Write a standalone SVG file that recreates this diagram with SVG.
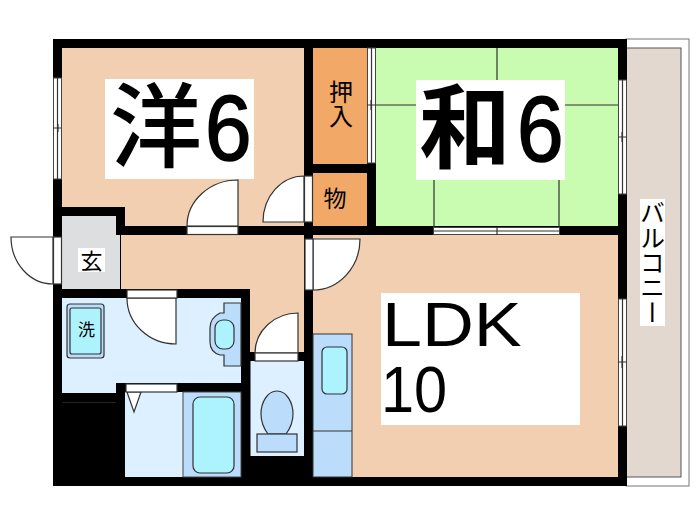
<svg xmlns="http://www.w3.org/2000/svg" width="700" height="525" viewBox="0 0 700 525">
<style>
.o{stroke:#333;stroke-width:1.2}
.w{fill:#fff;stroke:#444;stroke-width:1}
.d{fill:#fff;stroke:#333;stroke-width:1.2}
.t{font-family:"Noto Sans CJK JP","Liberation Sans",sans-serif;fill:#000}
.l{font-family:"Liberation Sans",Arial,sans-serif;fill:#000}
.h{stroke:#000;stroke-width:1.6}
.ln{stroke:#333;stroke-width:1.2;fill:none}
.b1{fill:#bbdcfb}.b2{fill:#adf3fd}.b0{fill:#dcf0ff}
</style>
<rect width="700" height="525" fill="#fff"/>
<g id="balcony">
<rect x="626" y="39" width="63" height="447" fill="#fff" stroke="#777" stroke-width="1"/>
<rect x="620" y="48" width="61" height="429" fill="#e2d8cf" stroke="#555" stroke-width="1"/>
<rect x="640" y="199" width="25" height="127" fill="#fff"/>
<text class="t" font-size="25" writing-mode="vertical-rl" x="652.500" y="200">バルコニー</text>
</g>
<g id="walls">
<rect x="53" y="39" width="574" height="447" fill="#000"/>
</g>
<g id="room-yo">
<path d="M62 48H304V226H125V207H62Z" fill="#f2cfb0"/>
<rect x="105" y="79" width="149" height="100" fill="#fff"/>
<text class="t" font-size="92" font-weight="500" x="110" y="160">洋</text>
<text class="l h" font-size="93" transform="translate(205 160) scale(0.9 1)" x="0" y="0">6</text>
</g>
<g id="closet">
<rect x="313" y="48" width="54" height="116" fill="#f2a968"/>
<rect x="313" y="173" width="54" height="53" fill="#f2a968"/>
<text class="t" font-size="24" writing-mode="vertical-rl" x="341" y="80">押入</text>
<text class="t" font-size="23" text-anchor="middle" x="335" y="207">物</text>
</g>
<g id="room-wa">
<rect x="376" y="48" width="242" height="178" fill="#c9fbb0"/>
<path class="ln" d="M497 48V80M376 105H416M565 105H618M434 180V227M559 180V227"/>
<rect x="416" y="80" width="149" height="100" fill="#fff"/>
<text class="t" font-size="92" font-weight="700" x="419" y="161">和</text>
<text class="l h" font-size="93" transform="translate(517 161) scale(0.9 1)" x="0" y="0">6</text>
</g>
<g id="room-ldk">
<rect x="313" y="235" width="305" height="242" fill="#f2cfb0"/>
<rect x="381" y="293" width="199" height="132" fill="#fff"/>
<text class="l" font-size="63" transform="translate(382 346) scale(1.14 1)" x="0" y="0">LDK</text>
<text class="l" font-size="64" transform="translate(381 412) scale(0.93 1)" x="0" y="0">10</text>
</g>
<g id="kitchen">
<rect class="b1" x="313" y="334" width="39" height="143" stroke="#333"/>
<path class="ln" d="M313 431H352"/>
<rect class="b2 o" x="322" y="347" width="25" height="47" rx="5"/>
</g>
<g id="hall">
<path d="M121 235H304V352H250V289H121Z" fill="#f2cfb0"/>
</g>
<g id="entry">
<path d="M62 216H116V235H120V289H62Z" fill="#dcdee0"/>
<rect x="78" y="248" width="27" height="24" fill="#fff"/>
<text class="t" font-size="22" text-anchor="middle" x="91.500" y="269">玄</text>
</g>
<g id="washroom">
<path class="b0" d="M62 298H241V383H116V393H62Z"/>
<path d="M62 402.500H116" stroke="#222" stroke-width="1"/>
<rect class="b1 o" x="67" y="304" width="37" height="54" rx="3"/>
<rect class="b2 o" x="70" y="308" width="31" height="46" rx="2"/>
<text class="t" font-size="17" text-anchor="middle" x="86.500" y="336">洗</text>
<path class="b1 o" d="M241 303H224V313H220Q210 318 210 328V342Q210 352 220 355H224V366H241Z"/>
<rect class="b2 o" x="215" y="320" width="19" height="29" rx="8"/>
</g>
<g id="bath">
<rect class="b0" x="125" y="392" width="58" height="85"/>
<rect class="b1" x="183" y="392" width="58" height="85" stroke="#444"/>
<rect class="b2 o" x="193" y="397" width="41" height="76" rx="7"/>
<path class="d" d="M127 392H141L134 412Z"/>
</g>
<g id="toilet">
<rect class="b0" x="250.500" y="361" width="53.500" height="95"/>
<path class="b1 o" d="M277 391C267 391 261 403 261 414C261 422 265 430 268 434H286C289 430 293 422 293 414C293 403 287 391 277 391Z"/>
<rect class="b1 o" x="257" y="434" width="40" height="18"/>
</g>
<g id="openings">
<rect class="w" x="53.500" y="78" width="8" height="101"/>
<path class="ln" d="M57.500 78V179M53 128H62M58 124V132"/>
<rect class="w" x="367.500" y="48" width="8" height="115"/>
<path class="ln" d="M371.500 48V163M367 105H376M371 100V110"/>
<rect class="w" x="618.500" y="80" width="8" height="114"/>
<path class="ln" d="M622.500 80V194M618 137H627M622 132V142"/>
<rect class="w" x="618.500" y="299" width="8" height="127"/>
<path class="ln" d="M622.500 299V426M618 362H627M622 356V368"/>
<rect class="w" x="433.500" y="227.500" width="126" height="7"/>
<path class="ln" d="M433 231H560M497 227V235M491 231H503"/>
</g>
<g id="doors">
<path class="d" d="M238 226V180A51 46 0 0 0 187 226Z"/>
<rect class="d" x="187" y="226.500" width="51" height="8"/>
<path class="d" d="M304 222V176A41 46 0 0 0 263 222Z"/>
<rect class="d" x="304.500" y="176" width="8" height="46"/>
<path class="d" d="M313 239H360A47 51 0 0 1 313 290Z"/>
<rect class="d" x="305" y="239" width="8" height="51"/>
<path class="d" d="M53 237H11A42 47 0 0 0 53 284Z"/>
<rect class="d" x="53.500" y="237" width="8" height="47"/>
<path class="d" d="M127 298H176V344A49 46 0 0 1 127 298Z"/>
<rect class="d" x="127" y="290" width="50" height="8"/>
<rect class="d" x="126" y="384" width="51" height="8"/>
<path class="d" d="M298 353V313A43 40 0 0 0 255 353Z"/>
<rect class="d" x="255" y="353" width="43" height="8"/>
</g>
</svg>
